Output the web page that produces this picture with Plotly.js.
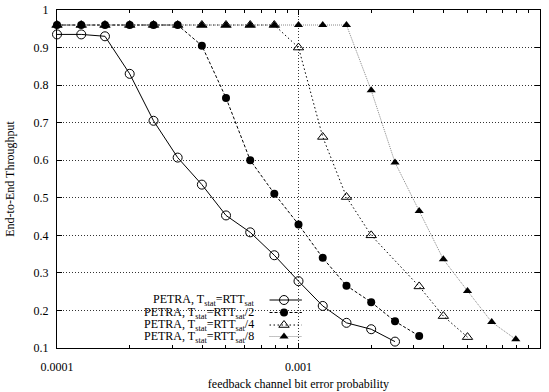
<!DOCTYPE html>
<html>
<head>
<meta charset="utf-8">
<script src="https://cdn.plot.ly/plotly-3.0.1.min.js"></script>
<style>html,body{margin:0;padding:0;background:#fff;}#chart{width:549px;height:392px;}</style>
</head>
<body>
<div id="chart"></div>
<script>
// Data
const ber1 = [0.0001, 0.000126, 0.000158, 0.0002, 0.000251, 0.000316, 0.000398, 0.000501, 0.000631, 0.000794, 0.001, 0.00126, 0.00158, 0.002, 0.00251];
const thr1 = [0.935, 0.935, 0.930, 0.830, 0.705, 0.607, 0.535, 0.453, 0.408, 0.347, 0.278, 0.212, 0.167, 0.150, 0.117];

const ber2 = [0.0001, 0.000126, 0.000158, 0.0002, 0.000251, 0.000316, 0.000398, 0.000501, 0.000631, 0.000794, 0.001, 0.00126, 0.00158, 0.002, 0.00251, 0.00316];
const thr2 = [0.96, 0.96, 0.96, 0.96, 0.96, 0.96, 0.905, 0.766, 0.600, 0.511, 0.429, 0.340, 0.266, 0.222, 0.171, 0.132];

const ber3 = [0.0001, 0.000126, 0.000158, 0.0002, 0.000251, 0.000316, 0.000398, 0.000501, 0.000631, 0.000794, 0.001, 0.00126, 0.00158, 0.002, 0.00316, 0.00398, 0.00501];
const thr3 = [0.96, 0.96, 0.96, 0.96, 0.96, 0.96, 0.96, 0.96, 0.96, 0.96, 0.900, 0.662, 0.502, 0.400, 0.264, 0.185, 0.129];

const ber4 = [0.0001, 0.000126, 0.000158, 0.0002, 0.000251, 0.000316, 0.000398, 0.000501, 0.000631, 0.000794, 0.001, 0.00126, 0.00158, 0.002, 0.00251, 0.00316, 0.00398, 0.00501, 0.00631, 0.00794];
const thr4 = [0.96, 0.96, 0.96, 0.96, 0.96, 0.96, 0.96, 0.96, 0.96, 0.96, 0.96, 0.96, 0.96, 0.786, 0.594, 0.465, 0.336, 0.252, 0.169, 0.123];

const seriesNames = [
  "PETRA, T<sub>stat</sub>=RTT<sub>sat</sub>",
  "PETRA, T<sub>stat</sub>=RTT<sub>sat</sub>/2",
  "PETRA, T<sub>stat</sub>=RTT<sub>sat</sub>/4",
  "PETRA, T<sub>stat</sub>=RTT<sub>sat</sub>/8"
];
const xTickVals = [0.0001, 0.001, 0.01];
const xTickText = ["0.0001", "0.001", "0.01"];
const xMinorVals = [0.0002,0.0003,0.0004,0.0005,0.0006,0.0007,0.0008,0.0009,0.002,0.003,0.004,0.005,0.006,0.007,0.008,0.009];

const FONT = "Liberation Serif";
const styles = [
  {line:{color:'#000', width:1, dash:'solid'}, marker:{symbol:'circle-open', size:9, color:'#000', line:{width:1,color:'#000'}}},
  {line:{color:'#000', width:1, dash:'3px,2px'}, marker:{symbol:'circle', size:8, color:'#000'}},
  {line:{color:'#000', width:1, dash:'1.5px,2.5px'}, marker:{symbol:'triangle-up-open', size:9, color:'#000', line:{width:1,color:'#000'}}},
  {line:{color:'#888', width:1, dash:'1px,1px'}, marker:{symbol:'triangle-up', size:8, color:'#000'}}
];
const xs = [ber1, ber2, ber3, ber4];
const ys = [thr1, thr2, thr3, thr4];

const traces = [];
for (let i = 0; i < 4; i++) {
  traces.push({x: xs[i], y: ys[i], type:'scatter', mode:'lines+markers', name: seriesNames[i],
    line: styles[i].line, marker: styles[i].marker, showlegend:false, cliponaxis:false});
}

// custom gnuplot-style legend (text right-aligned, sample on its right) on an overlay axis
const legRowsY = [0.142, 0.105, 0.068, 0.034];
const legTextX = 0.413, legX0 = 0.44, legX1 = 0.507, legMarkX = 0.47;
const annotations = [];
for (let i = 0; i < 4; i++) {
  traces.push({x:[legX0, legX1], y:[legRowsY[i], legRowsY[i]], xaxis:'x2', yaxis:'y2', mode:'lines',
    line: styles[i].line, showlegend:false, hoverinfo:'skip'});
  traces.push({x:[legMarkX], y:[legRowsY[i]], xaxis:'x2', yaxis:'y2', mode:'markers',
    marker: styles[i].marker, showlegend:false, hoverinfo:'skip'});
  annotations.push({xref:'paper', yref:'paper', x:legTextX, y:legRowsY[i], xanchor:'right', yanchor:'middle',
    text: seriesNames[i], showarrow:false, font:{family:FONT, size:12, color:'#000'}});
}

const layout = {
  width:549, height:392,
  margin:{l:57, r:9, t:10, b:44},
  paper_bgcolor:'#fff', plot_bgcolor:'#fff',
  font:{family:FONT, size:12, color:'#000'},
  showlegend:false,
  xaxis:{type:'log', range:[-4,-2], tickmode:'array', tickvals:xTickVals, ticktext:xTickText,
    ticks:'inside', ticklen:5, tickcolor:'#000', showline:true, linecolor:'#000', linewidth:1, mirror:'allticks',
    showgrid:true, gridcolor:'#333', gridwidth:1, griddash:'1px,2px', zeroline:false, ticklabelstandoff:8,
    minor:{tickmode:'array', tickvals:xMinorVals, ticks:'inside', ticklen:3, tickcolor:'#000', showgrid:false},
    title:{text:'feedback channel bit error probability', font:{family:FONT, size:12}, standoff:6},
    tickfont:{family:FONT, size:12}},
  yaxis:{range:[0.1,1], dtick:0.1, tick0:0.1, ticks:'inside', ticklen:5, tickcolor:'#000', showline:true,
    linecolor:'#000', linewidth:1, mirror:'allticks', showgrid:true, gridcolor:'#333', gridwidth:1, griddash:'1px,2px',
    zeroline:false, ticklabelstandoff:5,
    title:{text:'End-to-End Throughput', font:{family:FONT, size:12}, standoff:16},
    tickfont:{family:FONT, size:12}},
  xaxis2:{overlaying:'x', anchor:'y2', range:[0,1], visible:false, fixedrange:true},
  yaxis2:{overlaying:'y', anchor:'x2', range:[0,1], visible:false, fixedrange:true},
  shapes:[{type:'rect', xref:'paper', yref:'paper', x0:0.01, x1:0.515, y0:0.016, y1:0.168,
    fillcolor:'#fff', line:{width:0}, layer:'between'}],
  annotations: annotations
};

Plotly.newPlot('chart', traces, layout, {staticPlot:true, displayModeBar:false});
</script>
</body>
</html>
